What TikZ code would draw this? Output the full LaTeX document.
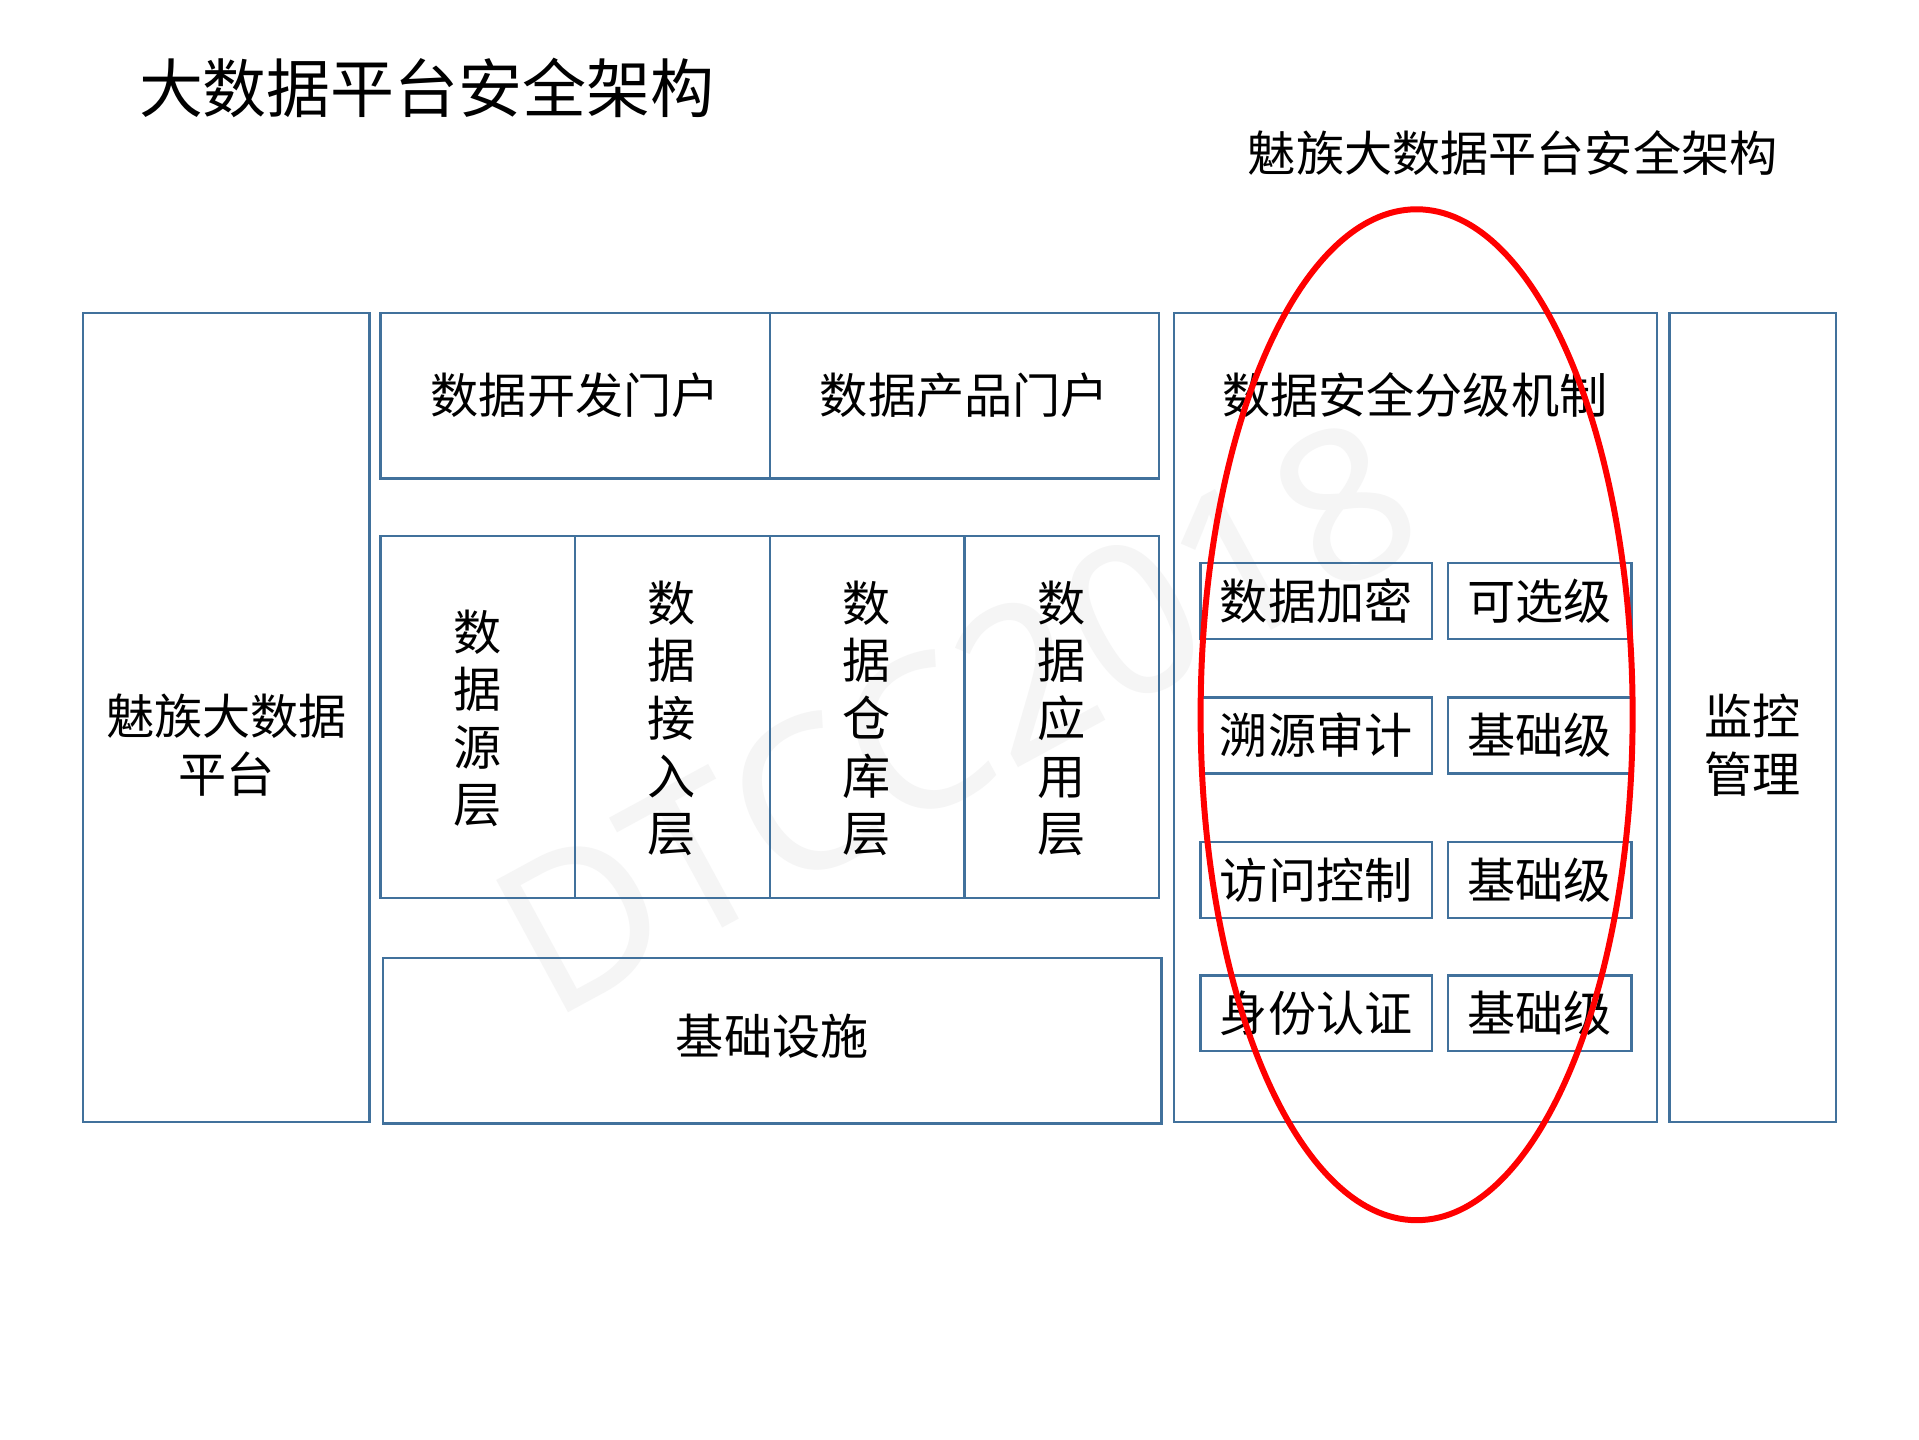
\documentclass[tikz,border=0pt]{standalone}
\usepackage{fontspec}
\setmainfont{Noto Sans CJK SC}
\newfontfamily\markfont{Noto Sans}
\usepackage{xcolor}
\definecolor{boxblue}{RGB}{65,113,156}
\tikzset{
	blockbox/.style={draw=boxblue, line width=0.65pt},
	blocktext/.style={font=\fontsize{13.7}{16.4}\selectfont, align=center, inner sep=0pt},
	cell/.style={blockbox, blocktext, minimum height=7.59mm},
	watermark/.style={font=\markfont\fontsize{60}{62}\selectfont, text=black!4, inner sep=0pt}
}

\begin{document}
\begin{tikzpicture}[x=0.1224mm, y=-0.1224mm]
	\fill [white] (0,0) rectangle (1568,1176);
	\useasboundingbox (0,0) rectangle (1568,1176);
	\node [watermark, rotate=28.5] (wm) at (781,585) {DTCC2018};
	\node [blocktext, anchor=west, font=\fontsize{18.2}{20}\selectfont] (title) at (113,72) {大数据平台安全架构};
	\node [blocktext] (subtitle) at (1236,125) {魅族大数据平台安全架构};
	\draw [blockbox] (68,256) rectangle (302,917);
	\node [blocktext] (meizu) at (185,609) {魅族大数据\\平台};
	\draw [blockbox] (311,256) rectangle (629,391);
	\draw [blockbox] (629,256) rectangle (947,391);
	\node [blocktext] (devportal) at (470,323) {数据开发门户};
	\node [blocktext] (prodportal) at (788,323) {数据产品门户};
	\foreach \i in {0,...,3}
		\draw [blockbox] (311+159*\i,438) rectangle ++(159,296);
	\node [blocktext] (source) at (390,587) {数\\据\\源\\层};
	\node [blocktext] (ingest) at (549,587) {数\\据\\接\\入\\层};
	\node [blocktext] (warehouse) at (708,587) {数\\据\\仓\\库\\层};
	\node [blocktext] (app) at (867,587) {数\\据\\应\\用\\层};
	\draw [blockbox] (313,783) rectangle (949,918);
	\node [blocktext] (infra) at (631,847) {基础设施};
	\draw [blockbox] (959,256) rectangle (1354,917);
	\node [blocktext] (grading) at (1156,323) {数据安全分级机制};
	\foreach \y/\feat/\lvl [count=\i] in {491/数据加密/可选级, 601/溯源审计/基础级, 719/访问控制/基础级, 828/身份认证/基础级} {
		\node [cell, minimum width=23.13mm] (feat\i) at (1075.5,\y) {\feat};
		\node [cell, minimum width=18.36mm] (level\i) at (1258,\y) {\lvl};
	}
	\draw [blockbox] (1364,256) rectangle (1500,917);
	\node [blocktext] (monitor) at (1432,609) {监控\\管理};
	\draw [red, line width=1.7pt] (1157.5,584) ellipse [x radius=176.5, y radius=413];
\end{tikzpicture}
\end{document}
